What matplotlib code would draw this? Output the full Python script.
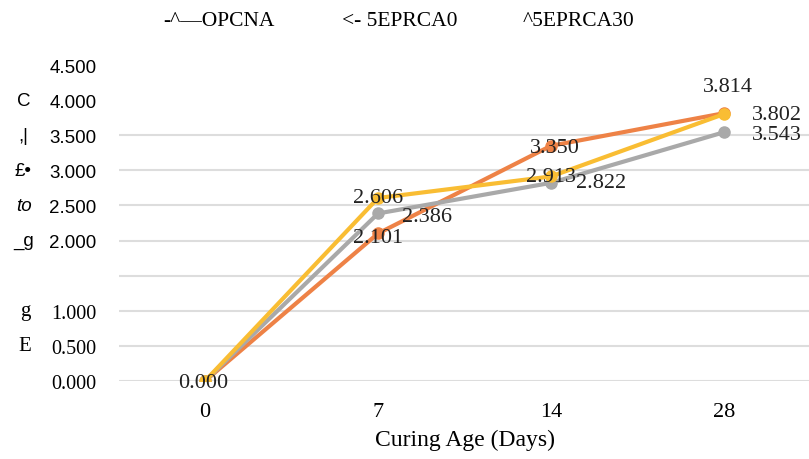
import matplotlib.pyplot as plt
import numpy as np

# data
ages = ["0", "7", "14", "28"]
opcna = [0.000, 2.101, 3.350, 3.814]
eprca0 = [0.000, 2.386, 2.822, 3.543]
eprca30 = [0.000, 2.606, 2.913, 3.802]

legend_texts = ["-^\u2014OPCNA", "<- 5EPRCA0", "^5EPRCA30"]
yticks = [0.0, 0.5, 1.0, 1.5, 2.0, 2.5, 3.0, 3.5, 4.0, 4.5]
ytick_labels = ["0.000", "0.500", "1.000", "", "2.000", "2.500", "3.000", "3.500", "4.000", "4.500"]
# garbled y-axis title letters (as they appear in the picture), one per tick row
ylab_bits = {4.0: "C", 3.5: ",|", 3.0: "\u00a3\u2022", 2.5: "to", 2.0: "_g", 1.0: "g", 0.5: "E"}

serif = "Liberation Serif"
sans = "Liberation Sans"

fig = plt.figure(figsize=(8.09, 4.6), dpi=100)
ax = fig.add_axes([0.1465, 0.1696, 0.8555, 0.6869])

x = np.arange(len(ages))
ax.plot(x, opcna, color="#EE8246", lw=3, marker="o", ms=8, zorder=3)
ax.plot(x, eprca0, color="#A9A9A9", lw=3, marker="o", ms=8, zorder=4)
ax.plot(x, eprca30, color="#F9BD33", lw=3, marker="o", ms=8, zorder=5)

ax.set_xlim(-0.5, 3.5)
ax.set_ylim(0, 4.5)
ax.set_xticks(x)
ax.set_xticklabels(ages, fontfamily=serif, fontsize=16)
ax.set_yticks(yticks)
ax.set_yticklabels(ytick_labels)
for t, v in zip(ax.get_yticklabels(), yticks):
    if v >= 2.0:
        t.set_fontfamily(sans)
        t.set_fontsize(13.5)
    else:
        t.set_fontfamily(serif)
        t.set_fontsize(14.5)
ax.tick_params(axis="both", length=0)
ax.tick_params(axis="y", pad=16)
ax.tick_params(axis="x", pad=15)
for s in ax.spines.values():
    s.set_visible(False)
ax.grid(axis="y", color="#DDDDDD", lw=1.5)
for tk, v in zip(ax.yaxis.get_major_ticks(), yticks):
    if v > 3.5:
        tk.gridline.set_visible(False)
ax.set_axisbelow(True)
ax.set_xlabel("Curing Age (Days)", fontfamily=serif, fontsize=17, labelpad=6)

# data labels
lab = dict(fontfamily=serif, fontsize=16, color="#222222", textcoords="offset points", zorder=6)
ax.annotate("%.3f" % opcna[0], (x[0], opcna[0]), xytext=(-1, -1), ha="center", va="center", **lab)
ax.annotate("%.3f" % opcna[1], (x[1], opcna[1]), xytext=(0, -3), ha="center", va="center", **lab)
ax.annotate("%.3f" % eprca30[1], (x[1], eprca30[1]), xytext=(0, 0), ha="center", va="center", **lab)
ax.annotate("%.3f" % eprca0[1], (x[1], eprca0[1]), xytext=(17, -2), ha="left", va="center", **lab)
ax.annotate("%.3f" % opcna[2], (x[2], opcna[2]), xytext=(3, -1), ha="center", va="center", **lab)
ax.annotate("%.3f" % eprca30[2], (x[2], eprca30[2]), xytext=(0, 0), ha="center", va="center", **lab)
ax.annotate("%.3f" % eprca0[2], (x[2], eprca0[2]), xytext=(18, 0), ha="left", va="center", **lab)
ax.annotate("%.3f" % opcna[3], (x[3], opcna[3]), xytext=(3, 19), ha="center", va="center", **lab)
ax.annotate("%.3f" % eprca30[3], (x[3], eprca30[3]), xytext=(20, 0), ha="left", va="center", **lab)
ax.annotate("%.3f" % eprca0[3], (x[3], eprca0[3]), xytext=(20, -2), ha="left", va="center", **lab)

# garbled y title pieces
for v, txt in ylab_bits.items():
    y = ax.transData.transform((0, v))[1] / fig.bbox.height
    if txt in ("g", "E"):
        fig.text(0.031, y, txt, fontfamily=serif, fontsize=15, ha="center", va="center")
    elif txt == "to":
        fig.text(0.03, y, txt, fontfamily=sans, fontsize=13.5, style="italic", ha="center", va="center")
    else:
        fig.text(0.029, y, txt, fontfamily=sans, fontsize=13.5, ha="center", va="center")

# legend (text only, as in the picture)
leg_x = [163, 342, 523]
for lx, txt in zip(leg_x, legend_texts):
    fig.text(lx / 809, 1 - 21 / 460, txt, fontfamily=serif, fontsize=15.5, ha="left", va="center")

fig.savefig("out.png", dpi=100)
